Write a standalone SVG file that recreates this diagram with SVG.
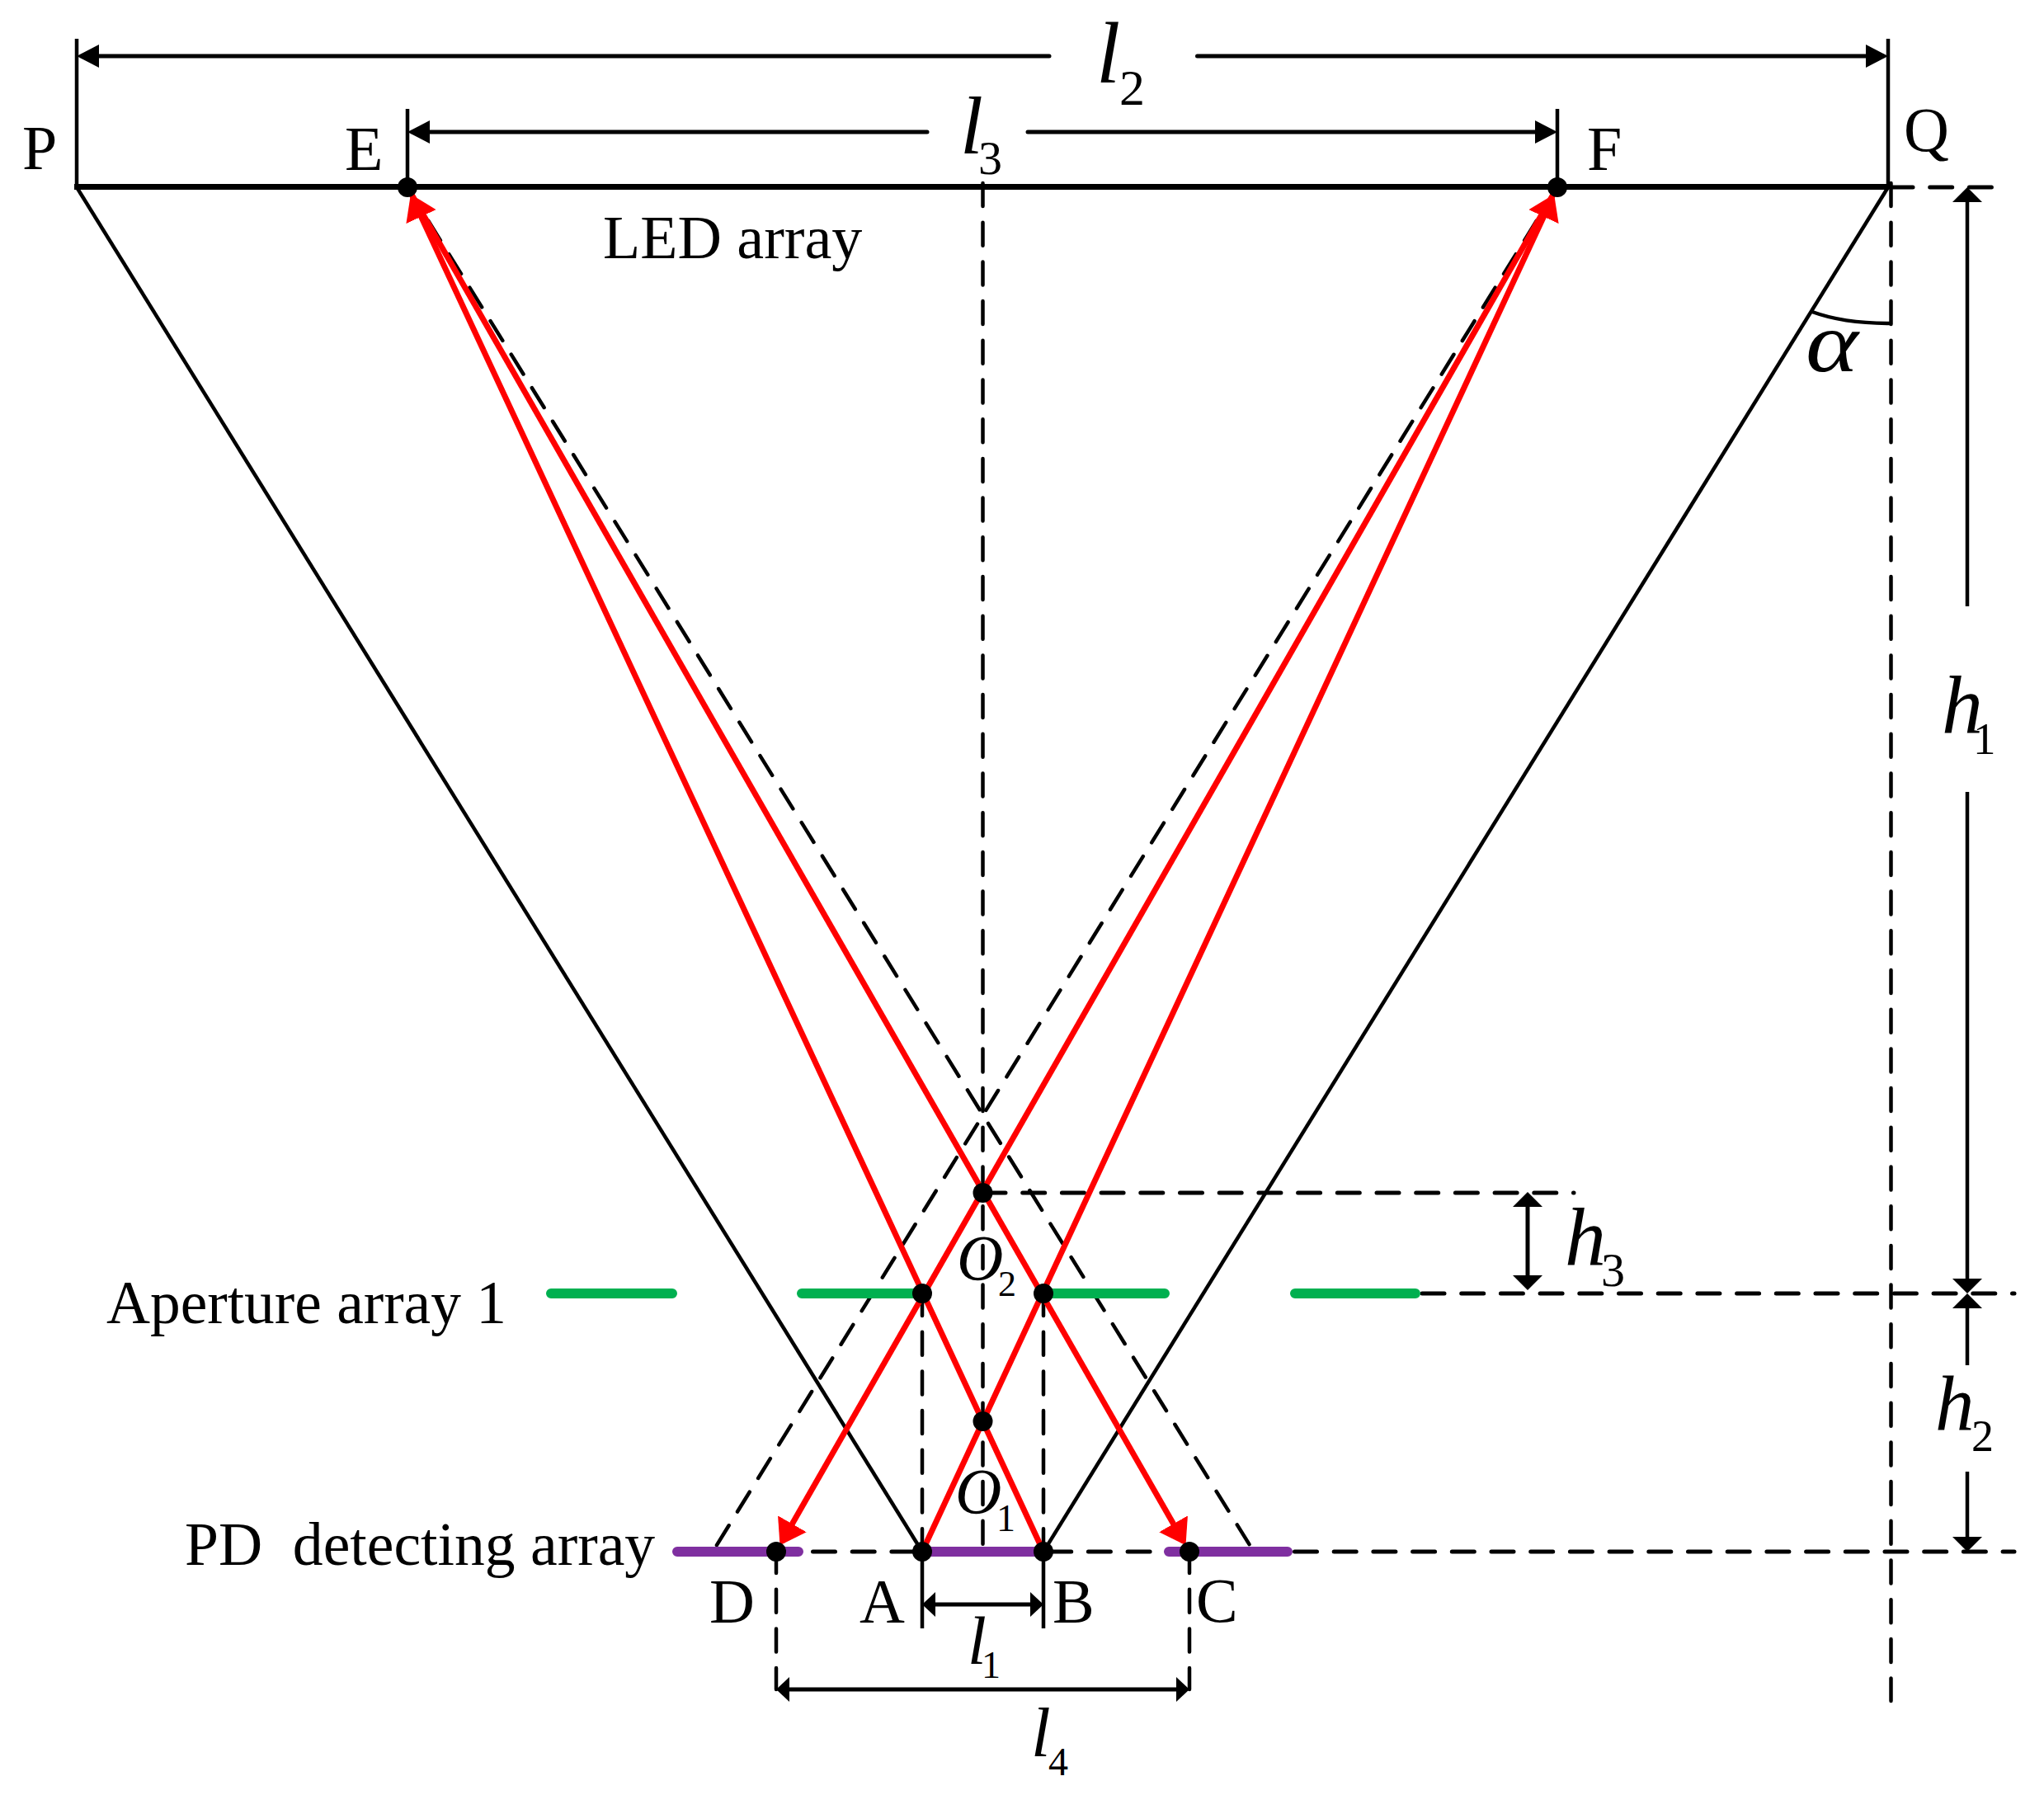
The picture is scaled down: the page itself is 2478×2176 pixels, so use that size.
<svg xmlns="http://www.w3.org/2000/svg" width="2478" height="2176" viewBox="0 0 2478 2176">
<style>
text{font-family:"Liberation Serif","Times New Roman",serif;fill:#000;white-space:pre}
.t{font-size:76px}.n{font-size:74px}.i{font-style:italic}
.s{stroke:#000;stroke-width:4.500;fill:none}
.m{stroke:#000;stroke-width:5;fill:none;stroke-linecap:round}
.d{stroke:#000;stroke-width:4.500;fill:none;stroke-linecap:round;stroke-dasharray:28 19.700}
.h{stroke:#000;stroke-width:5;fill:none;stroke-linecap:round;stroke-dasharray:27 20.700}
.r{stroke:#f00;stroke-width:7;fill:none}
.g{stroke:#00B050;stroke-width:12;stroke-linecap:round}
.p{stroke:#7F2FA0;stroke-width:12;stroke-linecap:round}
</style>
<defs>
<marker id="aL" markerUnits="userSpaceOnUse" markerWidth="27" markerHeight="28" viewBox="0 0 27 28" refX="21" refY="14" orient="auto-start-reverse"><path d="M0,0L27,14L0,28Z"/></marker>
<marker id="aS" markerUnits="userSpaceOnUse" markerWidth="16" markerHeight="30" viewBox="0 0 16 30" refX="11" refY="15" orient="auto-start-reverse"><path d="M0,0L16,15L0,30Z"/></marker>
<marker id="aV" markerUnits="userSpaceOnUse" markerWidth="18" markerHeight="36" viewBox="0 0 18 36" refX="13" refY="18" orient="auto-start-reverse"><path d="M0,0L18,18L0,36Z"/></marker>
<marker id="aR" markerUnits="userSpaceOnUse" markerWidth="30" markerHeight="40" viewBox="0 0 30 40" refX="25" refY="20" orient="auto"><path d="M0,0L30,20L0,40Z" fill="#f00"/></marker>
</defs>

<g id="connectors">
<path class="d" d="M1191.500 222V1881"/>
<path class="d" d="M2292.500 222V2062"/>
<path class="d" d="M1118 1567V1881"/>
<path class="d" d="M1265 1567V1881"/>
<path class="d" d="M941 1879V2048"/>
<path class="d" d="M1442 1879V2048"/>
<path class="d" d="M494 227L1520 1881"/>
<path class="d" d="M1888 227L864 1881"/>
<path class="h" d="M2292 227H2422"/>
<path class="h" d="M1192 1446H1908"/>
<path class="h" d="M1724 1568H2442"/>
<path class="h" d="M985.500 1881H1411"/>
<path class="h" d="M1569.500 1881H2442"/>
<path class="s" d="M93 227L1118 1881"/>
<path class="s" d="M2289 227L1265 1881"/>
<path class="s" d="M93 47V227M2289 47V227M494 132V227M1888 132V227M1118 1881V1974M1265 1881V1974"/>
<path d="M90 226.500H2290" stroke="#000" stroke-width="7"/>
<path class="s" d="M2197 378Q2235 392 2291 392"/>
<path class="m" d="M99 68H1272" marker-start="url(#aL)"/>
<path class="m" d="M1451.500 68H2283" marker-end="url(#aL)"/>
<path class="m" d="M500 160H1124" marker-start="url(#aL)"/>
<path class="m" d="M1246 160H1882" marker-end="url(#aL)"/>
<path class="m" d="M1123 1945H1260" marker-start="url(#aS)" marker-end="url(#aS)"/>
<path class="m" d="M946 2048H1437" marker-start="url(#aS)" marker-end="url(#aS)"/>
<path class="s" d="M2385 232V735" marker-start="url(#aV)"/>
<path class="s" d="M2385 960V1563" marker-end="url(#aV)"/>
<path class="s" d="M2385 1573V1655" marker-start="url(#aV)"/>
<path class="s" d="M2385 1784V1876" marker-end="url(#aV)"/>
<path class="m" d="M1852 1450V1559" marker-start="url(#aV)" marker-end="url(#aV)"/>
<path class="g" d="M668 1568H815M972 1568H1118M1265 1568H1412M1570 1568H1716"/>
<path class="p" d="M821 1881H968M1118 1881H1265M1417 1881H1561"/>
<path class="r" d="M1265 1881L500 240" marker-end="url(#aR)"/>
<path class="r" d="M1118 1881L1882 240" marker-end="url(#aR)"/>
<path class="r" d="M494 227L1435 1869" marker-end="url(#aR)"/>
<path class="r" d="M1888 227L948 1869" marker-end="url(#aR)"/>
</g>

<g id="node-E"><circle cx="494" cy="227" r="12"/><text class="t" x="418" y="206">E</text></g>
<g id="node-F"><circle cx="1888" cy="227" r="12"/><text class="t" x="1924" y="206">F</text></g>
<g id="node-P"><text class="t" x="27" y="205">P</text></g>
<g id="node-Q"><text class="t" x="2308" y="183">Q</text></g>
<g id="node-O2"><circle cx="1191.500" cy="1446" r="12"/><text class="i" style="font-size:78px" x="1160" y="1551">O</text><text style="font-size:44px" x="1210" y="1571">2</text></g>
<g id="node-O1"><circle cx="1191.500" cy="1723" r="12"/><text class="i" style="font-size:78px" x="1158" y="1834">O</text><text style="font-size:46px" x="1208" y="1856">1</text></g>
<g id="node-aperture-left"><circle cx="1118" cy="1568" r="12"/></g>
<g id="node-aperture-right"><circle cx="1265" cy="1568" r="12"/></g>
<g id="node-A"><circle cx="1118" cy="1881" r="12"/><text class="t" x="1042" y="1967">A</text></g>
<g id="node-B"><circle cx="1265" cy="1881" r="12"/><text class="t" x="1276" y="1967">B</text></g>
<g id="node-C"><circle cx="1442" cy="1881" r="12"/><text class="t" x="1450" y="1966">C</text></g>
<g id="node-D"><circle cx="941" cy="1881" r="12"/><text class="t" x="860" y="1967">D</text></g>

<g id="labels">
<text class="n" x="731" y="313">LED array</text>
<text class="n" style="font-size:73.400px" x="129" y="1604">Aperture array 1</text>
<text class="n" style="font-size:73.600px" x="224" y="1897">PD  detecting array</text>
<text class="i" style="font-size:105px" x="1329" y="100">l</text><text style="font-size:62px" x="1357" y="127">2</text>
<text class="i" style="font-size:100px" x="1164" y="186">l</text><text style="font-size:58px" x="1186" y="211">3</text>
<text class="i" style="font-size:82px" x="1173" y="2017">l</text><text style="font-size:46px" x="1190" y="2034">1</text>
<text class="i" style="font-size:85px" x="1250" y="2129">l</text><text style="font-size:48px" x="1271" y="2152">4</text>
<text class="i" style="font-size:100px" x="2354" y="888">h</text><text style="font-size:55px" x="2392" y="914">1</text>
<text class="i" style="font-size:95px" x="2346" y="1734">h</text><text style="font-size:54px" x="2390" y="1759">2</text>
<text class="i" style="font-size:100px" x="1897" y="1533">h</text><text style="font-size:58px" x="1941" y="1559">3</text>
<text class="i" style="font-size:103px" transform="translate(2189 450) scale(1.180 1)">α</text>
</g>
</svg>
